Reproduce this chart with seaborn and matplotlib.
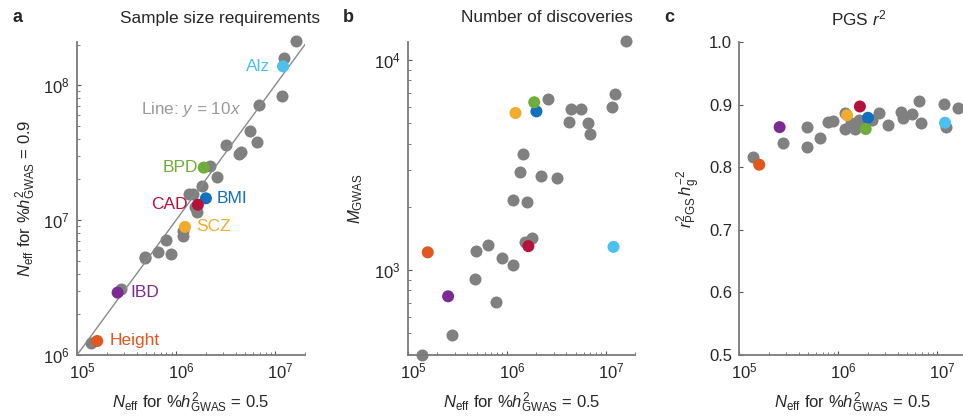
import numpy as np
import pandas as pd
import matplotlib
matplotlib.use("Agg")
import matplotlib.pyplot as plt
from matplotlib import ticker, transforms
import seaborn as sns

# ---- data -------------------------------------------------------------
trait = ["Other", "Other", "Alz", "Other", "Other", "Other", "Other", "Other",
         "Other", "Other", "Other", "Other", "BMI", "BPD", "Other", "CAD",
         "Other", "Other", "Other", "Other", "SCZ", "Other", "Other", "Other",
         "Other", "Other", "Other", "Other", "Other", "IBD", "Height", "Other"]

# N_eff needed for %h2_GWAS = 0.5
n_eff_05 = [1.62e7, 1.23e7, 1.20e7, 1.17e7, 6.9e6, 6.6e6, 5.6e6, 4.5e6,
            4.3e6, 3.2e6, 2.6e6, 2.2e6, 2.0e6, 1.9e6, 1.82e6, 1.66e6,
            1.62e6, 1.55e6, 1.48e6, 1.35e6, 1.23e6, 1.17e6, 1.17e6, 8.9e5,
            7.9e5, 6.5e5, 4.9e5, 4.8e5, 2.8e5, 2.57e5, 1.6e5, 1.4e5]

# N_eff needed for %h2_GWAS = 0.9
n_eff_09 = [2.14e8, 1.58e8, 1.38e8, 8.3e7, 7.1e7, 3.8e7, 4.6e7, 3.2e7,
            3.1e7, 3.6e7, 2.1e7, 2.5e7, 1.45e7, 2.45e7, 1.8e7, 1.3e7,
            1.15e7, 1.25e7, 1.55e7, 1.55e7, 8.9e6, 8.3e6, 7.6e6, 5.6e6,
            7.1e6, 5.8e6, 5.3e6, 5.2e6, 3.1e6, 2.9e6, 1.27e6, 1.22e6]

# number of GWAS discoveries
m_gwas = [12300, 6900, 1290, 6000, 4430, 5000, 5850, 5850,
          5100, 2750, 6500, 2820, 5700, 6300, 1415, 1300,
          2120, 1360, 3570, 2930, 5600, 2150, 1055, 1140,
          707, 1315, 1230, 910, 490, 750, 1215, 392]

# PGS r2 relative to h2_g
pgs_r2 = [0.894, 0.865, 0.871, 0.901, 0.871, 0.906, 0.885, 0.878,
          0.888, 0.867, 0.886, 0.876, 0.879, 0.861, 0.872, 0.897,
          0.876, 0.868, 0.861, 0.871, 0.883, 0.886, 0.861, 0.874,
          0.872, 0.847, 0.865, 0.833, 0.839, 0.864, 0.804, 0.817]

palette = {"Height": "#E2561F", "IBD": "#7C2B93", "CAD": "#B3133B",
           "BMI": "#1170BF", "SCZ": "#F0AC2C", "BPD": "#71AD3B",
           "Alz": "#4CC1EE"}
GRAY = "#808080"
SPINE = "#7a7a7a"

# label offsets (points) and alignment for the highlighted traits in panel a
label_pos = {"Alz": (-9, "right"), "BPD": (-4, "right"), "CAD": (-7, "right"),
             "BMI": (8, "left"), "SCZ": (8, "left"), "IBD": (9, "left"),
             "Height": (9, "left")}

df = pd.DataFrame({"trait": trait, "n05": n_eff_05, "n09": n_eff_09,
                   "m": m_gwas, "r2": pgs_r2})
others = df[df.trait == "Other"]
hi = df[df.trait != "Other"]

# ---- style ------------------------------------------------------------
sns.set_style("ticks")
plt.rcParams["font.family"] = ["Liberation Sans", "DejaVu Sans"]
plt.rcParams["mathtext.fontset"] = "custom"
plt.rcParams["mathtext.rm"] = "Liberation Sans"
plt.rcParams["mathtext.it"] = "Liberation Sans:italic"
plt.rcParams["mathtext.bf"] = "Liberation Sans:bold"

W, H = 963, 419
fig = plt.figure(figsize=(W / 100, H / 100), dpi=100)


def add_axes(left_px):
    return fig.add_axes([left_px / W, 1 - 355 / H, 228 / W, (355 - 42) / H])


ax_a = add_axes(77)
ax_b = add_axes(407.5)
ax_c = add_axes(739)

XLIM = (1e5, 2.0e7)
MS = 75
xlabel = r"$\mathit{N}_{\rm eff}$ for %$\mathit{h}^{2}_{\rm GWAS}$ = 0.5"


def scatter(ax, ycol):
    sns.scatterplot(data=others, x="n05", y=ycol, color=GRAY, s=MS,
                    linewidth=0, ax=ax, legend=False, zorder=2)
    sns.scatterplot(data=hi, x="n05", y=ycol, hue="trait", palette=palette,
                    s=MS, linewidth=0, ax=ax, legend=False, zorder=4)
    for coll in ax.collections:
        coll.set_clip_on(False)


def style(ax, logy):
    ax.set_xscale("log")
    if logy:
        ax.set_yscale("log")
    ax.set_xlim(*XLIM)
    for s in ("top", "right"):
        ax.spines[s].set_visible(False)
    for s in ("left", "bottom"):
        ax.spines[s].set_color(SPINE)
        ax.spines[s].set_linewidth(1.3)
    ax.tick_params(which="major", direction="in", length=3, width=0.8,
                   color="#555555", labelsize=12, pad=5)
    ax.tick_params(which="minor", direction="in", length=2, width=0.6,
                   color="#666666")
    ax.xaxis.set_major_locator(ticker.LogLocator(base=10, numticks=10))
    ax.xaxis.set_minor_locator(ticker.LogLocator(base=10, subs=np.arange(2, 10),
                                                 numticks=20))
    ax.xaxis.set_minor_formatter(ticker.NullFormatter())
    # centre the "10" of each power label on its tick
    shift = transforms.ScaledTranslation(4 / 72, 0, fig.dpi_scale_trans)
    for lab in ax.get_xticklabels():
        lab.set_transform(lab.get_transform() + shift)
    ax.set_xlabel(xlabel, fontsize=12, labelpad=6)


# ---- panel a: sample size requirements --------------------------------
scatter(ax_a, "n09")
style(ax_a, True)
ax_a.set_ylim(1e6, 2.09e8)
ax_a.yaxis.set_minor_locator(ticker.LogLocator(base=10, subs=np.arange(2, 10),
                                               numticks=20))
ax_a.yaxis.set_minor_formatter(ticker.NullFormatter())
line_x = np.array([1e5, 2.09e7])
ax_a.plot(line_x, 10 * line_x, color="#8a8a8a", lw=1.0, zorder=3)
ax_a.text(4.4e5, 6.6e7, r"Line: $\mathit{y}$ = 10$\mathit{x}$", color="#9a9a9a",
          fontsize=12.3, ha="left", va="center")
for _, row in hi.iterrows():
    dx, ha = label_pos[row.trait]
    ax_a.annotate(row.trait, (row.n05, row.n09), xytext=(dx, 0),
                  textcoords="offset points", ha=ha, va="center",
                  color=palette[row.trait], fontsize=12.5, zorder=5)
ax_a.set_ylabel(r"$\mathit{N}_{\rm eff}$ for %$\mathit{h}^{2}_{\rm GWAS}$ = 0.9",
                fontsize=12, labelpad=4)

# ---- panel b: number of discoveries -----------------------------------
scatter(ax_b, "m")
style(ax_b, True)
ax_b.set_ylim(394, 12200)
ax_b.yaxis.set_minor_locator(ticker.LogLocator(base=10, subs=np.arange(2, 10),
                                               numticks=20))
ax_b.yaxis.set_minor_formatter(ticker.NullFormatter())
ax_b.set_ylabel(r"$\mathit{M}_{\rm GWAS}$", fontsize=12, labelpad=6)

# ---- panel c: PGS r2 ---------------------------------------------------
scatter(ax_c, "r2")
style(ax_c, False)
ax_c.set_ylim(0.5, 1.0)
ax_c.set_yticks([0.5, 0.6, 0.7, 0.8, 0.9, 1.0])
ax_c.yaxis.set_major_formatter(ticker.FormatStrFormatter("%.1f"))
ax_c.set_ylabel(r"$\mathit{r}^{2}_{\rm PGS}\,\mathit{h}^{-2}_{\rm g}$",
                fontsize=12, labelpad=4)

# ---- panel letters and titles -----------------------------------------
for x, letter in ((12, "a"), (343, "b"), (664, "c")):
    fig.text(x / W, 1 - 18 / H, letter, fontsize=13, fontweight="bold",
             ha="left", va="center")
fig.text(220 / W, 1 - 18 / H, "Sample size requirements", fontsize=12.4,
         ha="center", va="center")
fig.text(547 / W, 1 - 18 / H, "Number of discoveries", fontsize=12.4,
         ha="center", va="center")
fig.text(859 / W, 1 - 18 / H, r"PGS $\mathit{r}^{2}$", fontsize=12.4,
         ha="center", va="center")

fig.savefig("out.png", dpi=100)
